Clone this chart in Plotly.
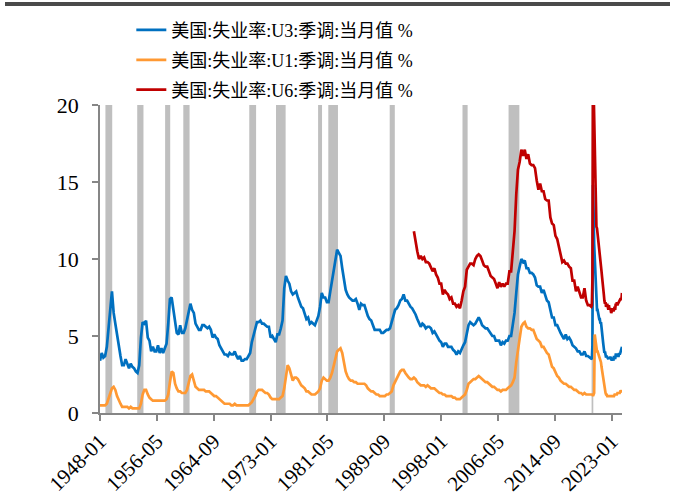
import pandas as pd
import plotly.graph_objects as go

# ---------------- data ----------------
# quarterly points (Jan/Apr/Jul/Oct) 1948-01 .. 2019-10, then monthly 2020-01 .. 2024-07
q_dates = list(pd.date_range("1948-01-01", "2019-10-01", freq="QS-JAN"))
m_dates = list(pd.date_range("2020-01-01", "2024-07-01", freq="MS"))
dates = q_dates + m_dates

u3_quarterly = [
    3.4, 3.9, 3.6, 3.7,   4.3, 5.3, 6.7, 7.9,   6.5, 5.8, 5.0, 4.2,   3.7, 3.1, 3.1, 3.5,
    3.2, 2.9, 3.2, 3.0,   2.9, 2.7, 2.6, 3.1,   4.9, 5.9, 5.8, 6.0,   4.9, 4.7, 4.0, 4.3,
    4.0, 4.0, 4.4, 3.9,   4.2, 3.9, 4.2, 4.5,   5.8, 7.4, 7.5, 6.7,   6.0, 5.2, 5.1, 5.7,
    5.2, 5.2, 5.5, 6.1,   6.6, 7.1, 6.7, 6.5,   5.8, 5.6, 5.4, 5.4,   5.7, 5.7, 5.6, 5.5,
    5.6, 5.4, 4.9, 5.1,   4.9, 4.8, 4.4, 4.2,   4.0, 3.8, 3.8, 3.7,   3.9, 3.8, 3.8, 4.0,
    3.7, 3.5, 3.7, 3.4,   3.4, 3.5, 3.5, 3.7,   3.9, 4.6, 5.0, 5.5,   5.9, 5.9, 6.0, 5.8,
    5.8, 5.7, 5.6, 5.6,   4.9, 5.0, 4.8, 4.6,   5.1, 5.1, 5.5, 6.0,   8.1, 8.9, 8.6, 8.4,
    7.9, 7.7, 7.8, 7.9,   7.5, 7.2, 6.9, 6.8,   6.4, 6.1, 6.2, 5.8,   5.9, 5.8, 5.7, 6.0,
    6.3, 6.9, 7.8, 7.5,   7.5, 7.2, 7.2, 7.9,   8.6, 9.3, 9.8, 10.6,  10.4, 10.2, 9.4, 8.8,
    8.0, 7.7, 7.5, 7.4,   7.3, 7.3, 7.4, 7.1,   6.7, 7.1, 7.0, 7.0,   6.6, 6.3, 6.1, 6.0,
    5.7, 5.4, 5.4, 5.4,   5.4, 5.2, 5.2, 5.3,   5.4, 5.4, 5.5, 5.9,   6.4, 6.7, 6.8, 7.0,
    7.3, 7.4, 7.7, 7.3,   7.3, 7.1, 6.9, 6.8,   6.6, 6.4, 6.1, 5.8,   5.6, 5.8, 5.7, 5.5,
    5.6, 5.6, 5.5, 5.2,   5.3, 5.1, 4.9, 4.7,   4.6, 4.3, 4.5, 4.5,   4.3, 4.3, 4.3, 4.1,
    4.0, 3.8, 4.0, 3.9,   4.2, 4.4, 4.6, 5.3,   5.7, 5.9, 5.8, 5.7,   5.8, 6.0, 6.2, 6.0,
    5.7, 5.6, 5.5, 5.5,   5.3, 5.2, 5.0, 5.0,   4.7, 4.7, 4.7, 4.4,   4.6, 4.5, 4.7, 4.7,
    5.0, 5.0, 5.8, 6.5,   7.8, 9.0, 9.5, 10.0,  9.8, 9.9, 9.4, 9.4,   9.1, 9.1, 9.0, 8.8,
    8.3, 8.2, 8.2, 7.8,   8.0, 7.6, 7.3, 7.2,   6.6, 6.2, 6.2, 5.7,   5.7, 5.4, 5.2, 5.0,
    4.8, 5.1, 4.8, 4.9,   4.7, 4.4, 4.3, 4.2,   4.0, 4.0, 3.8, 3.8,   4.0, 3.7, 3.7, 3.6,
]
u3_monthly = [
    3.5, 3.5, 4.4, 14.8, 13.2, 11.0, 10.2, 8.4, 7.8, 6.8, 6.7, 6.7,
    6.4, 6.2, 6.1, 6.1, 5.8, 5.9, 5.4, 5.1, 4.7, 4.5, 4.2, 3.9,
    4.0, 3.8, 3.6, 3.7, 3.6, 3.6, 3.5, 3.6, 3.5, 3.6, 3.6, 3.5,
    3.4, 3.6, 3.5, 3.4, 3.7, 3.6, 3.5, 3.8, 3.8, 3.8, 3.7, 3.7,
    3.7, 3.9, 3.8, 3.9, 4.0, 4.1, 4.3,
]

u1_quarterly = [
    0.5, 0.5, 0.5, 0.5,   0.6, 0.9, 1.3, 1.6,   1.7, 1.5, 1.1, 0.8,   0.6, 0.4, 0.4, 0.4,
    0.4, 0.3, 0.4, 0.3,   0.3, 0.3, 0.3, 0.3,   0.6, 1.2, 1.5, 1.5,   1.2, 1.0, 0.9, 0.8,
    0.8, 0.8, 0.8, 0.8,   0.8, 0.8, 0.8, 0.9,   1.2, 2.0, 2.7, 2.6,   1.9, 1.6, 1.4, 1.4,
    1.3, 1.3, 1.3, 1.5,   1.9, 2.4, 2.5, 2.1,   1.7, 1.6, 1.5, 1.5,   1.5, 1.5, 1.4, 1.4,
    1.4, 1.3, 1.2, 1.1,   1.1, 1.0, 0.9, 0.8,   0.7, 0.6, 0.6, 0.6,   0.6, 0.5, 0.5, 0.6,
    0.5, 0.5, 0.5, 0.5,   0.5, 0.5, 0.5, 0.5,   0.6, 0.7, 0.9, 1.1,   1.4, 1.5, 1.5, 1.5,
    1.4, 1.3, 1.3, 1.2,   1.0, 0.9, 0.9, 0.9,   0.9, 0.9, 1.0, 1.1,   1.6, 2.5, 3.1, 2.9,
    2.4, 2.1, 2.3, 2.3,   2.2, 2.0, 1.8, 1.7,   1.6, 1.4, 1.4, 1.3,   1.2, 1.2, 1.2, 1.3,
    1.4, 1.6, 2.1, 2.3,   2.2, 2.1, 2.1, 2.3,   2.6, 3.1, 3.6, 4.0,   4.1, 4.2, 3.9, 3.3,
    2.7, 2.4, 2.2, 2.1,   2.1, 2.0, 2.0, 1.9,   1.9, 1.9, 1.9, 1.9,   1.8, 1.6, 1.5, 1.4,
    1.4, 1.3, 1.2, 1.2,   1.1, 1.1, 1.1, 1.1,   1.2, 1.2, 1.3, 1.4,   1.8, 2.0, 2.2, 2.4,
    2.7, 2.8, 2.8, 2.6,   2.4, 2.3, 2.2, 2.2,   2.3, 2.2, 2.0, 1.9,   1.8, 1.8, 1.8, 1.7,
    1.8, 1.7, 1.6, 1.6,   1.6, 1.5, 1.4, 1.3,   1.3, 1.2, 1.2, 1.1,   1.1, 1.1, 1.1, 1.0,
    1.0, 0.9, 0.9, 0.9,   1.0, 1.1, 1.2, 1.5,   1.9, 2.0, 2.1, 2.2,   2.2, 2.3, 2.4, 2.3,
    2.2, 2.1, 2.0, 2.0,   1.9, 1.8, 1.7, 1.7,   1.6, 1.5, 1.5, 1.4,   1.5, 1.5, 1.5, 1.6,
    1.7, 1.8, 2.0, 2.3,   3.3, 4.0, 4.9, 5.6,   5.8, 5.9, 5.6, 5.5,   5.5, 5.4, 5.4, 5.1,
    4.8, 4.7, 4.6, 4.3,   4.3, 4.1, 3.9, 3.8,   3.3, 3.0, 2.9, 2.6,   2.4, 2.3, 2.1, 2.0,
    1.9, 1.9, 1.8, 1.7,   1.7, 1.6, 1.5, 1.5,   1.4, 1.3, 1.3, 1.2,   1.3, 1.2, 1.2, 1.2,
]
u1_monthly = [
    1.2, 1.2, 1.2, 1.1, 1.2, 1.3, 5.1, 4.8, 4.5, 4.2, 4.0, 4.0,
    3.9, 3.8, 3.7, 3.6, 3.5, 3.3, 3.0, 2.7, 2.4, 2.1, 1.8, 1.6,
    1.4, 1.3, 1.2, 1.2, 1.1, 1.1, 1.1, 1.1, 1.1, 1.1, 1.1, 1.1,
    1.1, 1.1, 1.1, 1.1, 1.1, 1.2, 1.2, 1.2, 1.2, 1.2, 1.3, 1.3,
    1.3, 1.3, 1.3, 1.4, 1.4, 1.4, 1.5,
]

# U6 starts in 1994-01
u6_start = "1994-01-01"
u6_quarterly = [
    11.8, 11.1, 10.5, 10.0,  10.2, 10.0, 10.1, 9.8,   9.8, 9.7, 9.5, 9.2,   9.4, 9.0, 8.8, 8.4,
    8.4, 7.7, 8.0, 7.8,     7.7, 7.4, 7.5, 7.1,     7.1, 6.9, 7.0, 6.8,   7.3, 7.9, 8.2, 9.3,
    9.5, 9.7, 9.7, 9.6,     10.0, 10.2, 10.3, 10.2, 9.9, 9.6, 9.5, 9.5,   9.2, 8.9, 8.8, 8.7,
    8.4, 8.1, 8.5, 8.2,     8.4, 8.2, 8.4, 8.4,     9.2, 9.2, 10.5, 11.8, 14.2, 15.8, 16.3, 17.1,
    16.7, 17.1, 16.5, 16.8, 16.2, 16.1, 16.1, 15.9, 15.1, 14.5, 14.9, 14.4, 14.4, 13.9, 13.8, 13.8,
    12.7, 12.3, 12.2, 11.5, 11.3, 10.8, 10.4, 9.8,  9.9, 9.7, 9.7, 9.5,   9.4, 8.6, 8.6, 7.9,
    8.2, 7.8, 7.5, 7.5,     8.1, 7.3, 7.0, 7.0,
]
u6_monthly = [
    6.9, 7.0, 8.7, 22.9, 21.2, 18.0, 16.5, 14.2, 12.8, 12.1, 12.0, 11.7,
    11.1, 11.1, 10.7, 10.4, 10.2, 9.8, 9.2, 8.8, 8.5, 8.3, 7.7, 7.3,
    7.1, 7.2, 6.9, 7.0, 7.1, 6.7, 6.7, 7.0, 6.7, 6.8, 6.7, 6.5,
    6.6, 6.8, 6.7, 6.6, 6.7, 6.9, 6.7, 7.1, 7.0, 7.2, 7.0, 7.1,
    7.2, 7.3, 7.3, 7.4, 7.4, 7.4, 7.8,
]

recessions = [
    ("1948-11", "1949-10"), ("1953-07", "1954-05"), ("1957-08", "1958-04"),
    ("1960-04", "1961-02"), ("1969-12", "1970-11"), ("1973-11", "1975-03"),
    ("1980-01", "1980-07"), ("1981-07", "1982-11"), ("1990-07", "1991-03"),
    ("2001-03", "2001-11"), ("2007-12", "2009-06"), ("2020-02", "2020-04"),
]

tick_labels = ["1948-01", "1956-05", "1964-09", "1973-01", "1981-05",
               "1989-09", "1998-01", "2006-05", "2014-09", "2023-01"]
y_ticks = [0, 5, 10, 15, 20]

names = ["美国:失业率:U3:季调:当月值 %",
         "美国:失业率:U1:季调:当月值 %",
         "美国:失业率:U6:季调:当月值 %"]
colors = ["#0070C0", "#FF9933", "#C00000"]

# ---------------- assemble ----------------
u3 = u3_quarterly + u3_monthly
u1 = u1_quarterly + u1_monthly
u6 = u6_quarterly + u6_monthly
assert len(u3) == len(dates), (len(u3), len(dates))
assert len(u1) == len(dates), (len(u1), len(dates))
u6_dates = [d for d in q_dates if d >= pd.Timestamp(u6_start)] + m_dates
assert len(u6) == len(u6_dates), (len(u6), len(u6_dates))

FONT = "Times New Roman, Liberation Serif, DejaVu Serif, Noto Sans CJK SC, serif"
AXIS = "#868686"

fig = go.Figure()
for i, (xs, ys) in enumerate([(dates, u3), (dates, u1), (u6_dates, u6)]):
    fig.add_trace(go.Scatter(
        x=xs, y=ys, mode="lines", name=names[i], legendgroup=str(i),
        line=dict(color=colors[i], width=2.7),
    ))

half = pd.Timedelta(days=15)
for s, e in recessions:
    fig.add_shape(type="rect", xref="x", yref="y",
                  x0=pd.Timestamp(s + "-01") - half, x1=pd.Timestamp(e + "-01") + half,
                  y0=0, y1=20, fillcolor="#BFBFBF", line=dict(width=0), layer="below")

# dark top rule
fig.add_shape(type="rect", xref="paper", yref="paper",
              x0=(5 - 100) / 522, x1=(670 - 100) / 522,
              y0=(413 - 6) / 308, y1=(413 - 2) / 308,
              fillcolor="#4A4A4A", line=dict(width=0))

fig.update_layout(
    width=675, height=499,
    margin=dict(l=100, r=53, t=105, b=86, autoexpand=False),
    paper_bgcolor="white", plot_bgcolor="white",
    font=dict(family=FONT, size=18, color="black"),
    showlegend=True,
    legend=dict(x=0.060, y=1.303, xanchor="left", yanchor="top",
                font=dict(size=18, family=FONT, color="black"),
                tracegroupgap=3.5, bgcolor="rgba(0,0,0,0)"),
    xaxis=dict(
        type="date", range=["1948-01-01", "2024-07-01"],
        tickvals=[pd.Timestamp(t + "-01") for t in tick_labels], ticktext=tick_labels,
        tickangle=-45, tickfont=dict(size=21, family=FONT),
        ticklabelshift=0, ticklabelstandoff=0,
        showline=True, linecolor=AXIS, linewidth=1.5,
        ticks="outside", ticklen=6, tickcolor=AXIS, tickwidth=1.5,
        showgrid=False, zeroline=False, automargin=False,
    ),
    yaxis=dict(
        range=[0, 20], tickvals=y_ticks,
        tickfont=dict(size=22, family=FONT),
        showline=True, linecolor=AXIS, linewidth=1.5,
        ticks="outside", ticklen=6, tickcolor=AXIS, tickwidth=1.5,
        ticklabelstandoff=9,
        showgrid=False, zeroline=False, automargin=False,
    ),
)

fig.write_html("out.html", config={"displayModeBar": False},
               post_script="document.body.style.margin='0';document.body.style.padding='0';")
